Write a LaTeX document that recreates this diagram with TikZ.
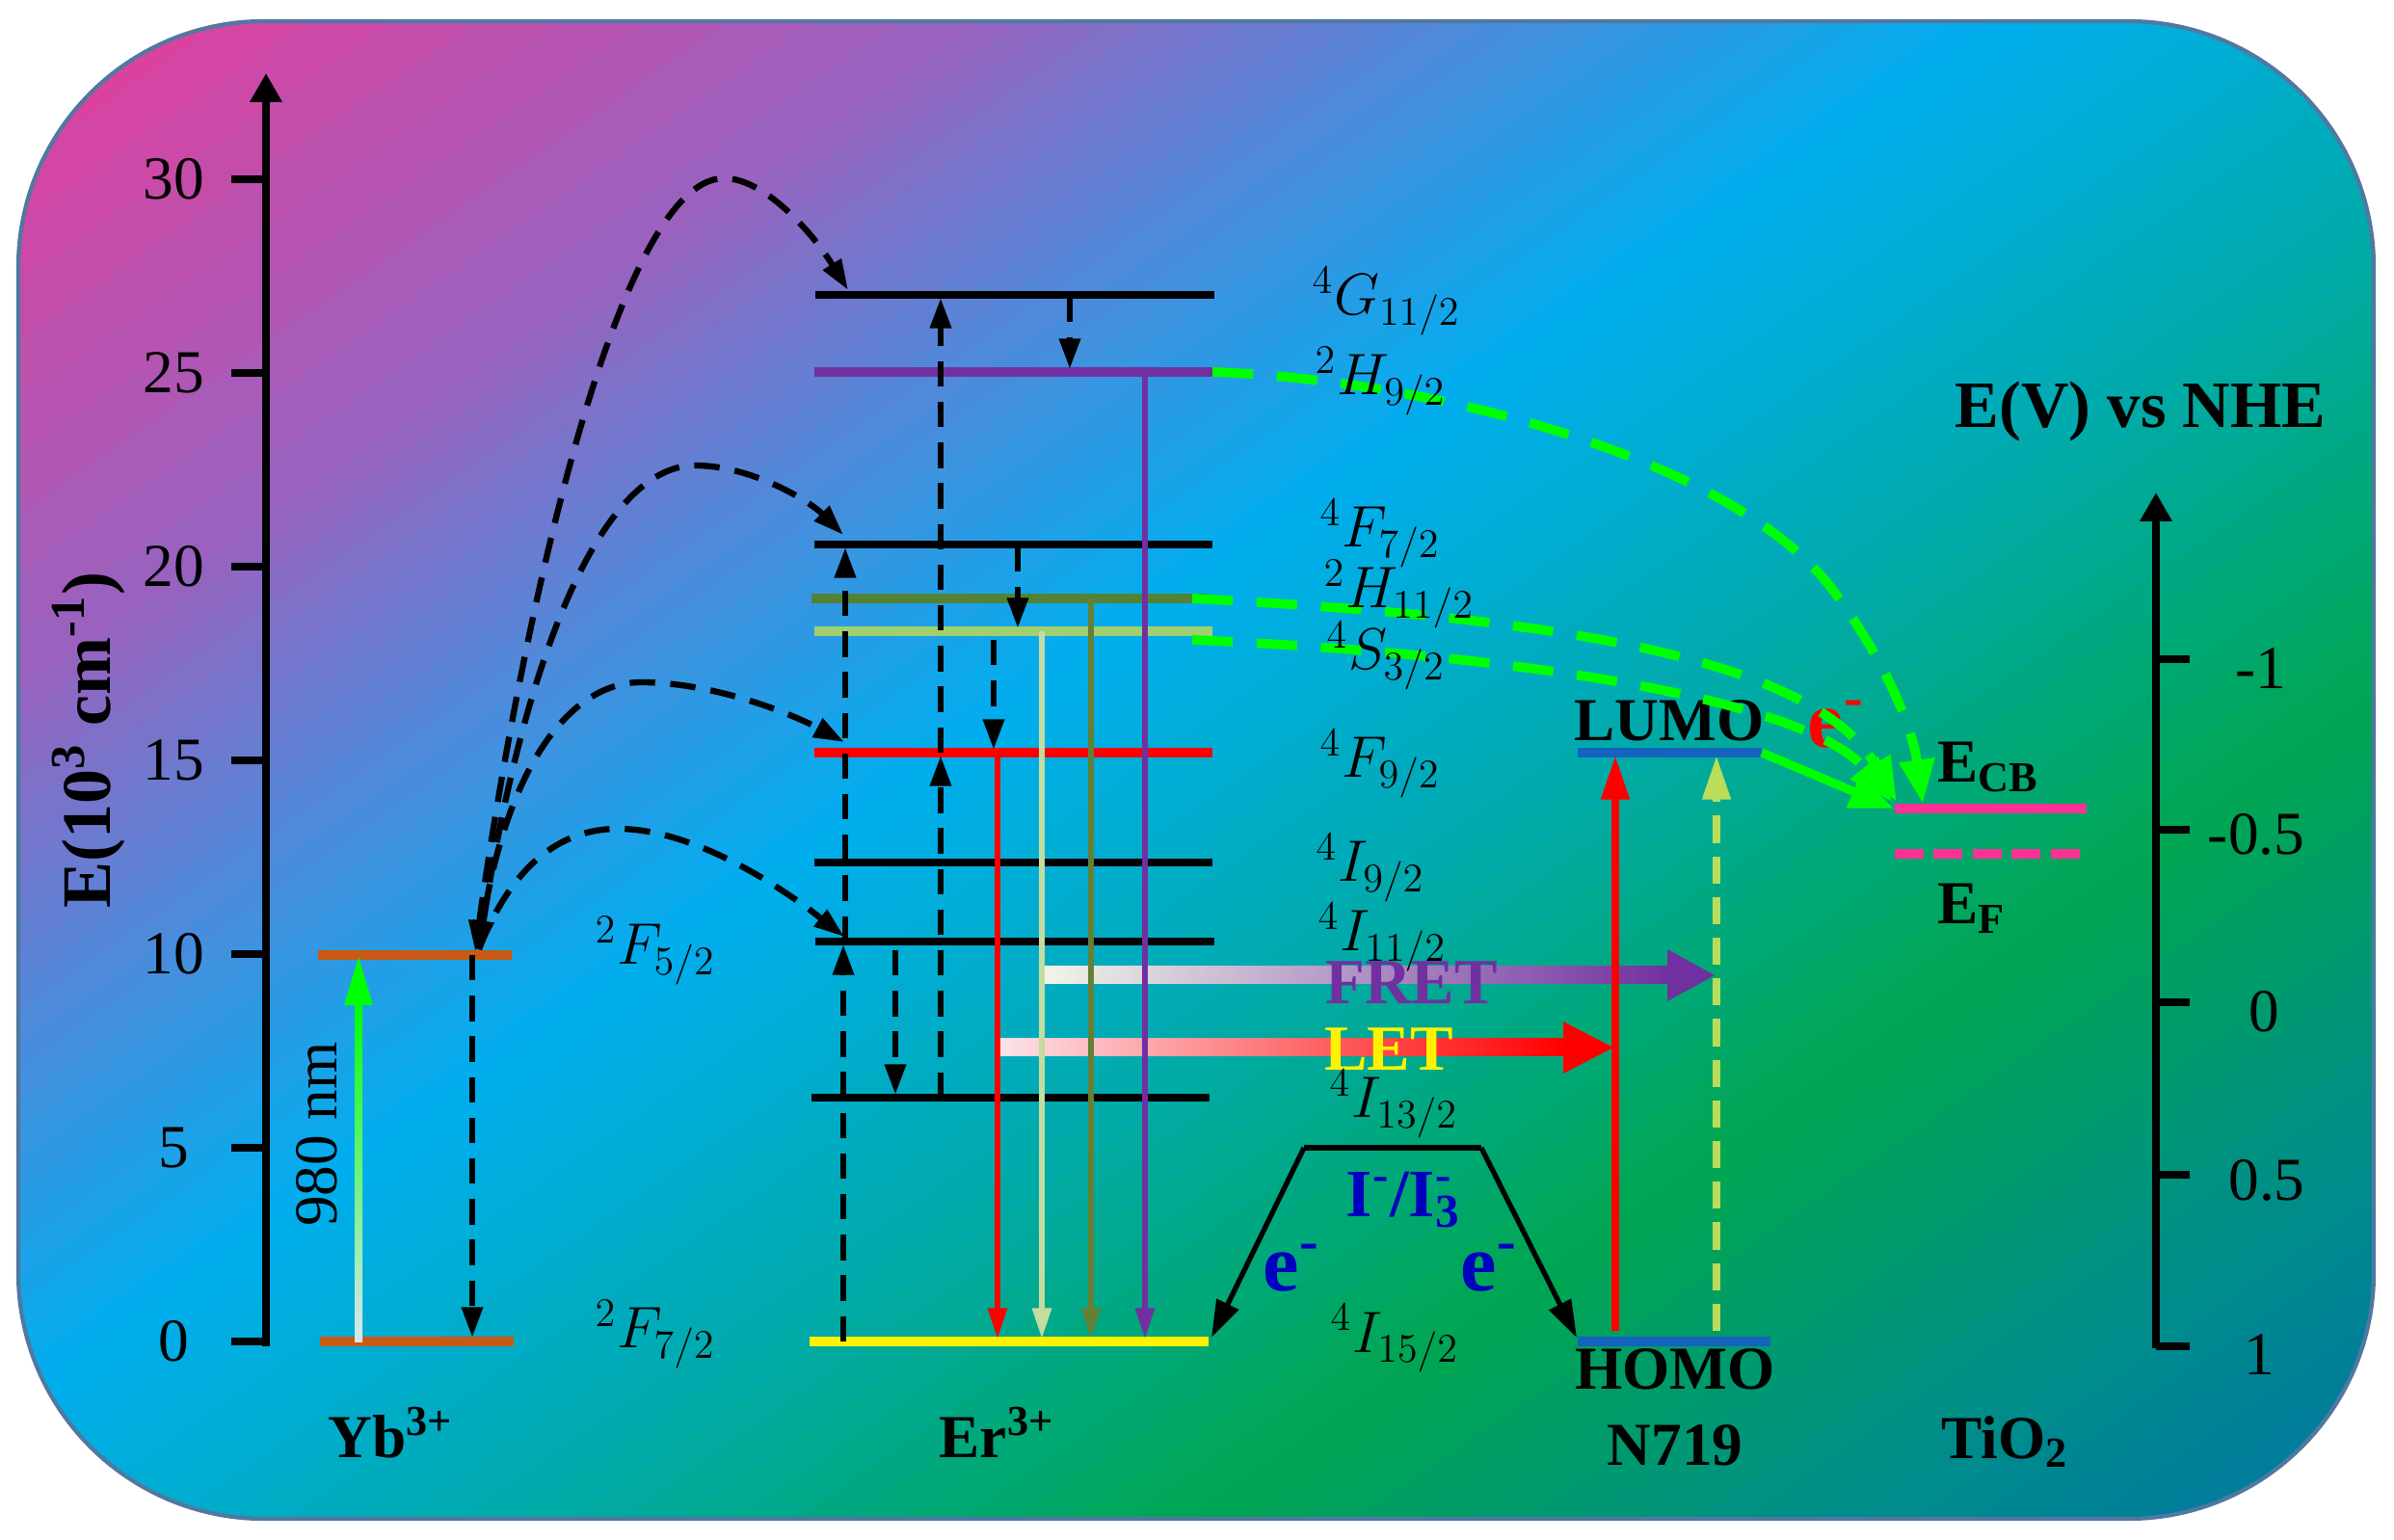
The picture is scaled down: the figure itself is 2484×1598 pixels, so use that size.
\documentclass[tikz,border=0pt]{standalone}
\usepackage{fontspec}
\setmainfont{Liberation Serif}
\usetikzlibrary{arrows.meta,calc}
\definecolor{ybc}{RGB}{200,90,20}
\definecolor{erpurple}{RGB}{112,48,160}
\definecolor{olivelvl}{RGB}{84,130,53}
\definecolor{olivearr}{RGB}{100,128,55}
\definecolor{lgreen}{RGB}{160,208,110}
\definecolor{palegreen}{RGB}{195,220,160}
\definecolor{brightgreen}{RGB}{0,255,0}
\definecolor{homoblue}{RGB}{20,100,190}
\definecolor{pinkcb}{RGB}{250,50,150}
\definecolor{textblue}{RGB}{0,0,190}
\definecolor{nygreen}{RGB}{185,220,90}
\definecolor{c980b}{RGB}{215,232,242}
\definecolor{c980m}{RGB}{60,170,230}
\definecolor{fretL}{RGB}{240,245,232}
\definecolor{fretM}{RGB}{168,206,135}
\definecolor{fretR}{RGB}{112,48,160}
\definecolor{letL}{RGB}{250,226,230}
\definecolor{letM}{RGB}{255,90,90}
\definecolor{bgborder}{RGB}{80,120,160}
\definecolor{bg0}{RGB}{236,58,152}
\definecolor{bg1}{RGB}{150,100,192}
\definecolor{bg2}{RGB}{75,140,220}
\definecolor{bg3}{RGB}{0,174,239}
\definecolor{bg4}{RGB}{0,170,170}
\definecolor{bg5}{RGB}{0,166,81}
\definecolor{bg6}{RGB}{0,140,140}
\definecolor{bg7}{RGB}{0,110,170}
\newcommand\bgseg[4]{%
  \foreach \j in {0,...,11}{%
    \pgfmathsetmacro\bgA{#3+(#4-#3)*\j/12}%
    \pgfmathsetmacro\bgB{#3+(#4-#3)*(\j+1)/12+4}%
    \pgfmathtruncatemacro\bgP{100*(\j+0.5)/12}%
    \fill[#2!\bgP!#1] ({0.57*\bgA+2460},{0.82*\bgA-1710}) -- ({0.57*\bgB+2460},{0.82*\bgB-1710}) -- ({0.57*\bgB-2460},{0.82*\bgB+1710}) -- ({0.57*\bgA-2460},{0.82*\bgA+1710}) -- cycle;
  }}
\begin{document}
\begin{tikzpicture}[x=0.01cm,y=-0.01cm,
  lvl/.style={line width=2pt},
  clvl/.style={line width=2.8pt},
  dasharr/.style={line width=1.8pt, dash pattern=on 7.5pt off 4.5pt, -{Triangle[length=9pt,width=6pt]}},
  dashboth/.style={line width=1.8pt, dash pattern=on 7.5pt off 4.5pt, {Triangle[length=9pt,width=6pt]}-{Triangle[length=9pt,width=6pt]}},
  emis/.style={line width=1.5pt, -{Triangle[length=9pt,width=5.5pt]}},
  gdash/.style={brightgreen, line width=2.8pt, dash pattern=on 12pt off 7pt, -{Triangle[length=13pt,width=10pt]}},
  lbl/.style={font=\fontsize{18}{20}\selectfont, anchor=base west, inner sep=0pt},
  tnr/.style={font=\fontsize{18}{20}\selectfont, inner sep=0pt},
  bld/.style={font=\fontsize{18}{20}\selectfont\bfseries, inner sep=0pt},
]
\useasboundingbox (0,0) rectangle (2484,1598);
\fill[white] (0,0) rectangle (2484,1598);
% ---------- background ----------
\begin{scope}
\clip[rounded corners=2.55cm] (19,22) rectangle (2463,1576);
\bgseg{bg0}{bg1}{0}{600}
\bgseg{bg1}{bg2}{600}{900}
\bgseg{bg2}{bg3}{900}{1200}
\bgseg{bg3}{bg4}{1200}{1600}
\bgseg{bg4}{bg5}{1600}{2000}
\bgseg{bg5}{bg6}{2000}{2400}
\bgseg{bg6}{bg7}{2400}{2800}
\end{scope}
\draw[bgborder, line width=1.2pt, rounded corners=2.55cm] (19,22) rectangle (2463,1576);

% ---------- left axis ----------
\draw[line width=2.4pt, -{Triangle[length=8.5pt,width=9pt]}] (276,1397) -- (276,76);
\foreach \v/\yy in {0/1392,5/1191,10/990,15/789,20/588,25/387,30/186}{
  \draw[line width=2.4pt] (240,\yy) -- (276,\yy);
  \node[tnr] (tick\v) at (180,\yy) {\v};
}
\node[font=\fontsize{20.5}{22}\selectfont\bfseries, rotate=90] (yaxis) at (92,768) {E(10\textsuperscript{3} cm\textsuperscript{-1})};

% ---------- right axis ----------
\draw[line width=2.4pt, -{Triangle[length=8.5pt,width=9pt]}] (2237,1399) -- (2237,511);
\foreach \yy in {684,861,1040,1219,1397}{
  \draw[line width=2.4pt] (2237,\yy) -- (2272,\yy);
}
\node[tnr] (rt1) at (2346,694) {-1};
\node[tnr] (rt2) at (2341,866) {-0.5};
\node[tnr] (rt3) at (2349,1050) {0};
\node[tnr] (rt4) at (2352,1225) {0.5};
\node[tnr] (rt5) at (2344,1406) {1};
\node[font=\fontsize{19.5}{22}\selectfont\bfseries, anchor=base west, inner sep=0pt] (nhe) at (2028,444) {E(V) vs NHE};

% ---------- transfer bars (under the lines) ----------
\shade[left color=fretL, middle color=fretM, right color=fretR] (1084,1003) rectangle (1733,1021);
\fill[fretR] (1730,985) -- (1779,1012) -- (1730,1039) -- cycle;
\shade[left color=letL, middle color=letM, right color=red] (1038,1078) rectangle (1625,1096);
\fill[red] (1622,1060) -- (1674,1087) -- (1622,1114) -- cycle;
\node[font=\fontsize{19}{22}\selectfont\bfseries, text=erpurple, inner sep=0pt] (fret) at (1465,1020) {FRET};
\node[font=\fontsize{19}{22}\selectfont\bfseries, text=yellow, inner sep=0pt] (let) at (1441,1089) {LET};

% ---------- Yb levels ----------
\draw[clvl, ybc] (332,1392) coordinate (yb0L) -- (533,1392) coordinate (yb0R);
\draw[clvl, ybc] (330,991) coordinate (yb1L) -- (531,991) coordinate (yb1R);
\coordinate (ybS) at (490,991);
\coordinate (ybB) at (490,1392);
\shade[bottom color=c980b, middle color=c980m, top color=brightgreen] (368,1392) rectangle (376,1040);
\fill[brightgreen] (357,1043) -- (372,993) -- (387,1043) -- cycle;
\node[tnr, rotate=90] (nm) at (329,1177) {980 nm};
\draw[dasharr] (ybS) -- (490,1388);

% ---------- Er levels ----------
\draw[lvl] (846,306) coordinate (G11L) -- (1260,306) coordinate (G11R);
\draw[clvl, erpurple] (845,386) coordinate (H9L) -- (1258,386) coordinate (H9R);
\draw[lvl] (845,565) coordinate (F7L) -- (1258,565) coordinate (F7R);
\draw[clvl, olivelvl] (842,621) coordinate (H11L) -- (1255,621) coordinate (H11R);
\draw[clvl, lgreen] (845,655) coordinate (S3L) -- (1258,655) coordinate (S3R);
\draw[clvl, red] (845,781) coordinate (F9L) -- (1258,781) coordinate (F9R);
\draw[lvl] (845,895) coordinate (I9L) -- (1258,895) coordinate (I9R);
\draw[lvl] (846,977) coordinate (I11L) -- (1260,977) coordinate (I11R);
\draw[lvl] (842,1139) coordinate (I13L) -- (1255,1139) coordinate (I13R);
\draw[clvl, yellow] (840,1392) coordinate (I15L) -- (1254,1392) coordinate (I15R);

% ---------- Yb -> Er energy transfer curves ----------
\draw[dashboth] (493,987) .. controls (540,650) and (640,188) .. (750,185) .. controls (792,184) and (842,240) .. (880,301);
\draw[dashboth] (497,987) .. controls (540,700) and (620,483) .. (721,483) .. controls (780,483) and (840,520) .. (875,555);
\draw[dasharr] (497,985) .. controls (520,800) and (590,708) .. (665,708) .. controls (740,708) and (820,740) .. (876,770);
\draw[dasharr] (497,985) .. controls (530,900) and (580,860) .. (641,860) .. controls (720,860) and (810,920) .. (876,972);

% ---------- Er internal dashed transitions ----------
\draw[dasharr] (875,1392) -- (875,980);
\draw[dasharr] (877,977) -- (877,568);
\draw[dasharr] (976,1139) -- (976,784);
\draw[dasharr] (976,781) -- (976,309);
\draw[dasharr] (1110,308) -- (1110,383);
\draw[dasharr] (1056,567) -- (1056,652);
\draw[dasharr] (1031,664) -- (1031,778);
\draw[dasharr] (929,986) -- (929,1136);

% ---------- emissions ----------
\draw[emis, red] (1035,781) -- (1035,1389);
\draw[emis, palegreen] (1081,655) -- (1081,1389);
\draw[emis, olivearr] (1132,621) -- (1132,1389);
\draw[emis, erpurple] (1188,386) -- (1188,1389);

% ---------- electrolyte ----------
\coordinate (elL) at (1353,1191);
\coordinate (elR) at (1537,1191);
\draw[line width=1.6pt] (elL) -- (elR);
\draw[line width=1.5pt, -{Triangle[length=11pt,width=7pt]}] (elL) -- (1257,1388);
\draw[line width=1.5pt, -{Triangle[length=11pt,width=7pt]}] (elR) -- (1636,1388);
\node[font=\fontsize{20}{22}\selectfont\bfseries, text=textblue, inner sep=0pt] (redox) at (1452,1245) {I\textsuperscript{-}/I\rlap{\textsubscript{3}}\textsuperscript{-}};
\node[font=\fontsize{24}{26}\selectfont\bfseries, text=textblue, inner sep=0pt] (eL) at (1340,1316) {e\textsuperscript{-}};
\node[font=\fontsize{24}{26}\selectfont\bfseries, text=textblue, inner sep=0pt] (eR) at (1545,1316) {e\textsuperscript{-}};

% ---------- N719 ----------
\draw[clvl, homoblue] (1637,781) coordinate (lumoL) -- (1828,781) coordinate (lumoR);
\draw[clvl, homoblue] (1637,1392) coordinate (homoL) -- (1837,1392) coordinate (homoR);
\draw[red, line width=2.3pt, -{Triangle[length=13pt,width=8pt]}] (1676,1381) -- (1676,784);
\draw[nygreen, line width=2.3pt, dash pattern=on 8pt off 4pt, -{Triangle[length=13pt,width=8pt]}] (1781,1381) -- (1781,784);
\node[bld, anchor=base] (lumo) at (1732,769) {LUMO};
\node[bld, anchor=base] (homo) at (1738,1442) {HOMO};
\node[bld, anchor=base] (n719) at (1738,1520) {N719};

% ---------- TiO2 ----------
\draw[clvl, pinkcb] (1966,839) coordinate (cbL) -- (2165,839) coordinate (cbR);
\draw[clvl, pinkcb, dash pattern=on 8.5pt off 3pt] (1966,886) coordinate (fL) -- (2158,886) coordinate (fR);
\node[bld, anchor=base west] (ecb) at (2010,812) {E\textsubscript{CB}};
\node[bld, anchor=base west] (ef) at (2010,959) {E\textsubscript{F}};
\node[bld, anchor=base west] (tio) at (2014,1513) {TiO\textsubscript{2}};
\node[font=\fontsize{24}{26}\selectfont\bfseries, text=red, inner sep=0pt] (ered) at (1905,752) {e\textsuperscript{-}};

% ---------- green transfers ----------
\draw[gdash] (H9R) .. controls (1500,395) and (1800,480) .. (1900,610) .. controls (1960,690) and (1985,760) .. (1995,834);
\draw[gdash] (1237,621) .. controls (1600,640) and (1880,680) .. (1968,832);
\draw[gdash] (1237,664) .. controls (1600,680) and (1880,730) .. (1963,832);
\draw[brightgreen, line width=2.6pt, -{Triangle[length=13pt,width=10pt]}] (lumoR) -- (1965,839);

% ---------- state labels ----------
\node[lbl] (lG11) at (1361,327) {$^{4}G_{11/2}$};
\node[lbl] (lH9) at (1364,410) {$^{2}H_{9/2}$};
\node[lbl] (lF7) at (1369,568) {$^{4}F_{7/2}$};
\node[lbl] (lH11) at (1373,631) {$^{2}H_{11/2}$};
\node[lbl] (lS3) at (1376,695) {$^{4}S_{3/2}$};
\node[lbl] (lF9) at (1369,807) {$^{4}F_{9/2}$};
\node[lbl] (lI9) at (1365,915) {$^{4}I_{9/2}$};
\node[lbl] (lI11) at (1367,987) {$^{4}I_{11/2}$};
\node[lbl] (lI13) at (1379,1160) {$^{4}I_{13/2}$};
\node[lbl] (lI15) at (1380,1403) {$^{4}I_{15/2}$};
\node[lbl] (lF52) at (617,1001) {$^{2}F_{5/2}$};
\node[lbl] (lF72) at (617,1399) {$^{2}F_{7/2}$};

% ---------- species labels ----------
\node[bld, anchor=base west] (yb) at (340,1512) {Yb\textsuperscript{3+}};
\node[bld, anchor=base west] (er) at (974,1512) {Er\textsuperscript{3+}};
\end{tikzpicture}
\end{document}
